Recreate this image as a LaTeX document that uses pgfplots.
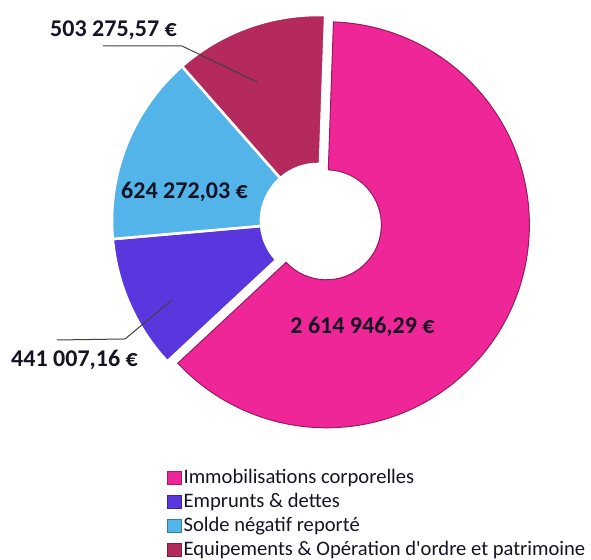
\documentclass[border=0pt]{standalone}
\usepackage{pgfplots}
\pgfplotsset{compat=1.18}
\usepackage{fontspec}
\setmainfont{Carlito}
\definecolor{pinkc}{RGB}{238,38,152}
\definecolor{purplec}{RGB}{90,54,222}
\definecolor{bluec}{RGB}{82,180,232}
\definecolor{maroonc}{RGB}{180,42,92}
\definecolor{txt}{RGB}{22,20,36}
% values in thousands of euros
\def\vA{2614.94629}% Immobilisations corporelles
\def\vB{441.00716}% Emprunts & dettes
\def\vC{624.27203}% Solde negatif reporte
\def\vD{503.27557}% Equipements & Operation d'ordre et patrimoine
\pgfmathsetmacro\tot{\vA+\vB+\vC+\vD}
\pgfmathsetmacro\sA{88}
\pgfmathsetmacro\eA{\sA-\vA/\tot*360}
\pgfmathsetmacro\eB{\eA-\vB/\tot*360}
\pgfmathsetmacro\eC{\eB-\vC/\tot*360}
\pgfmathsetmacro\eD{\eC-\vD/\tot*360}
\pgfmathsetmacro\mA{(\sA+\eA)/2}
\newcommand\slice[5]{%
  \path[#5] (axis cs:318,339) ++(#1:#3) arc[start angle=#1,end angle=#2,radius=#3]
    -- ++(#2+180:{#3-#4}) arc[start angle=#2,end angle=#1,radius=#4] -- cycle;}
\begin{document}
\begin{tikzpicture}
\useasboundingbox (0,0) rectangle (295.5pt,280pt);
\begin{axis}[at={(0,0)},anchor=south west,
  width=295.5pt,height=280pt,scale only axis,
  xmin=0,xmax=591,ymin=0,ymax=560,enlargelimits=false,
  hide axis, clip=false,
  legend image code/.code={\fill[#1] (0pt,-3.2pt) rectangle (7pt,3.2pt);},
  legend style={draw=none,fill=none,inner sep=0pt,
    at={(axis description cs:0.2815,0.168)},anchor=north west,
    font=\fontsize{10.3}{12}\selectfont, row sep=0.5pt,
    nodes={inner sep=1pt,text height=7.5pt,text depth=2pt,text=txt}},
  legend cell align=left]
\addlegendimage{fill=pinkc,draw=pinkc!70!black}
\addlegendentry{Immobilisations corporelles}
\addlegendimage{fill=purplec,draw=purplec!70!black}
\addlegendentry{Emprunts \& dettes}
\addlegendimage{fill=bluec,draw=bluec!70!black}
\addlegendentry{Solde négatif reporté}
\addlegendimage{fill=maroonc,draw=maroonc!70!black}
\addlegendentry{Equipements \& Opération d\textquotesingle ordre et patrimoine}
% slices
\slice{\eA}{\eB}{103pt}{28.5pt}{fill=purplec,draw=white,line width=1.3pt}
\slice{\eB}{\eC}{103pt}{28.5pt}{fill=bluec,draw=white,line width=1.3pt}
\slice{\eC}{\eD}{103pt}{28.5pt}{fill=maroonc,draw=white,line width=1.3pt}
\slice{\sA}{\eA}{101.5pt}{27.5pt}{fill=pinkc,draw=pinkc!65!black,line width=0.5pt,shift={(\mA:4.6pt)}}
% leader lines
\draw[line width=0.5pt,black!75] (axis cs:103,514) -- (axis cs:182,514) -- (axis cs:257,478);
\draw[line width=0.5pt,black!75] (axis cs:57,220) -- (axis cs:125,221) -- (axis cs:172,260);
% data labels
\begin{scope}[every node/.style={font=\bfseries\fontsize{12}{14}\selectfont,text=txt,inner sep=0pt}]
\node at (axis cs:113.5,529.5) {503 275,57 €};
\node at (axis cs:74.5,200) {441 007,16 €};
\node at (axis cs:184.5,368) {624 272,03 €};
\node at (axis cs:362.5,233) {2 614 946,29 €};
\end{scope}
\end{axis}
\end{tikzpicture}
\end{document}
